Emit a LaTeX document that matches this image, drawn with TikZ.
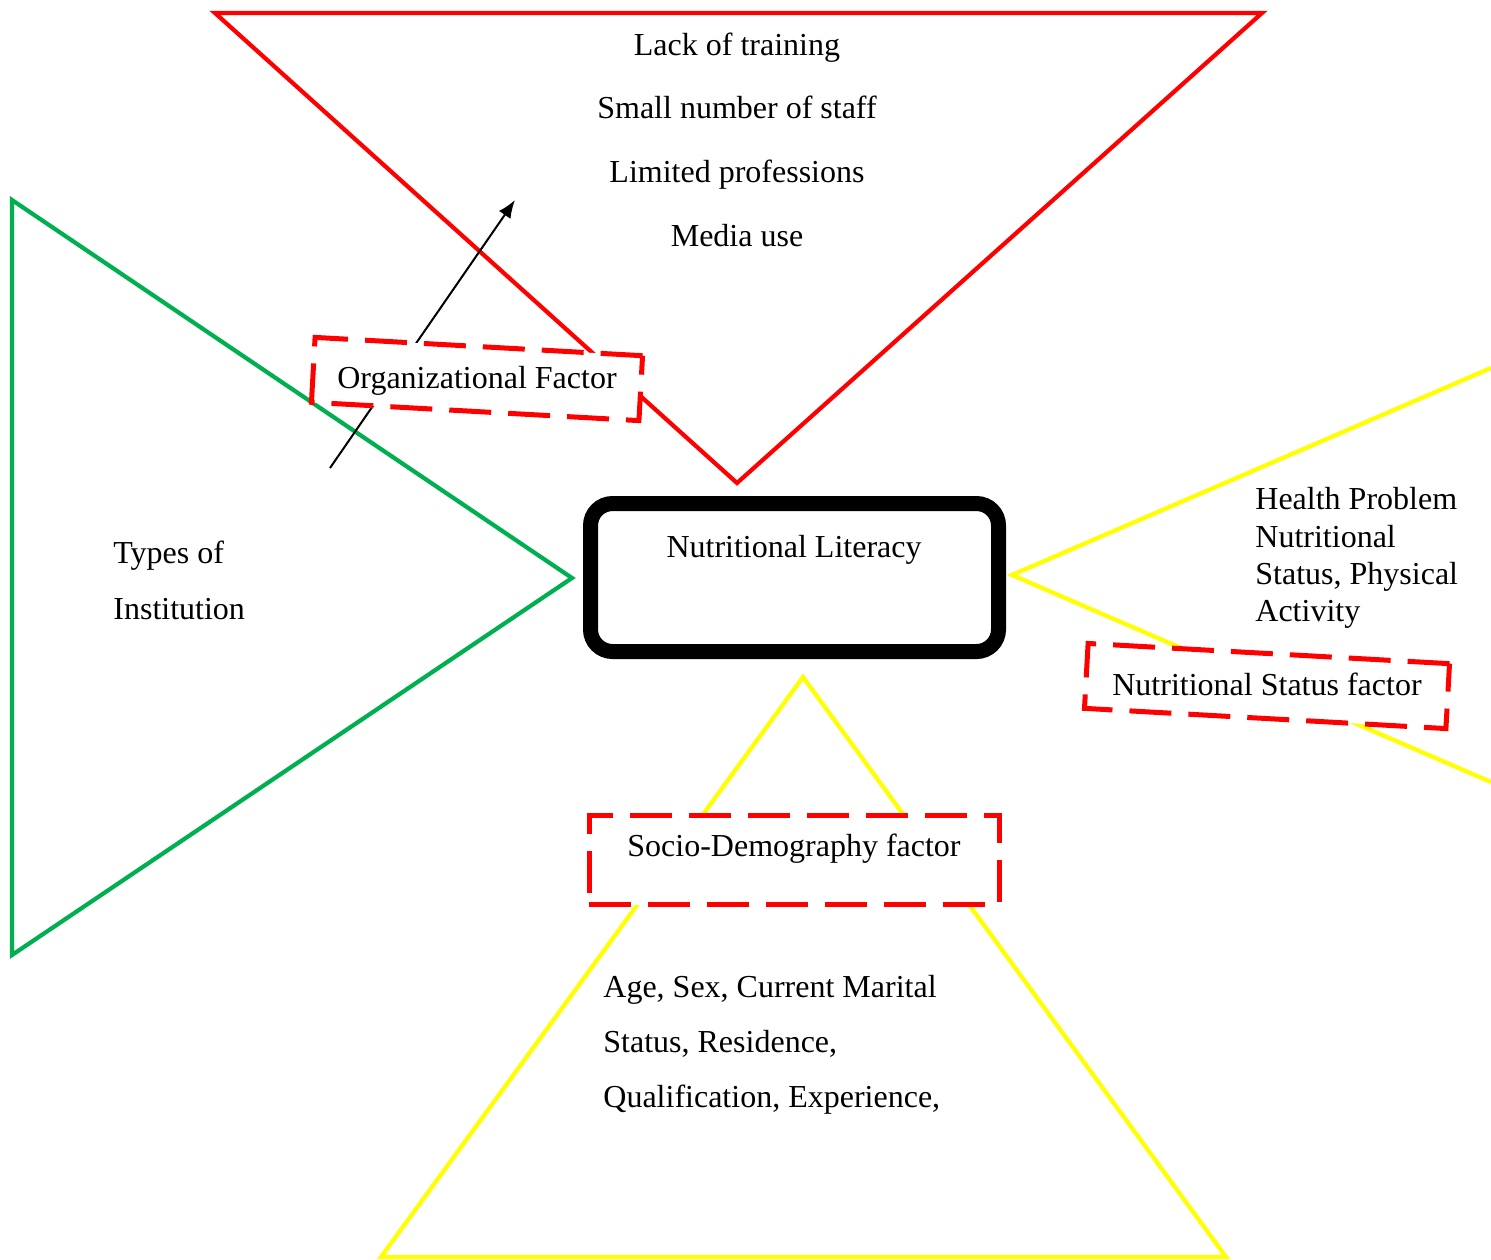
\documentclass[tikz,border=0pt]{standalone}
\usepackage{fontspec}
\setmainfont{Liberation Serif}
\usetikzlibrary{arrows.meta}
\definecolor{wgreen}{RGB}{0,176,80}
\definecolor{wyellow}{RGB}{255,255,0}
\begin{document}
\begin{tikzpicture}[x=0.5pt,y=-0.5pt,
  lbl/.style={font=\fontsize{16}{19}\selectfont, inner sep=0pt, anchor=base},
  lbll/.style={lbl, anchor=base west},
  tri/.style={line width=2.1pt, line join=miter},
  dbox/.style={draw=red, fill=white, line width=2.5pt, dash pattern=on 21pt off 8.5pt, inner sep=0pt},
  mainbox/.style={draw=black, line width=7.5pt, rounded corners=11pt, inner sep=0pt, minimum width=204pt, minimum height=74pt}
]
\useasboundingbox (0,0) rectangle (1491,1259);
% triangles
\draw[tri, red] (215,13) -- (1262,13) -- (737,483) -- cycle;
\draw[tri, wgreen] (12,200) -- (572,578) -- (12,955) -- cycle;
\draw[tri, wyellow] (1491,368) -- (1012,575) -- (1491,782);
\draw[tri, wyellow] (803,677) -- (1226,1257) -- (381,1257) -- cycle;
% arrow
\coordinate (a1) at (330,468);
\coordinate (a2) at (515,200);
\draw[line width=1pt, -{Latex[length=9pt,width=7pt]}] (a1) -- (a2);
% central box
\node[mainbox] (nl) at (794.5,577.5) {};
\node[lbl] (nlt) at (794,557) {Nutritional Literacy};
% dashed boxes
\node[dbox, minimum width=164pt, minimum height=32.5pt, rotate=-3.2] (orgbox) at (477,379) {};
\node[lbl] (orgt) at (477,388) {Organizational Factor};
\node[dbox, minimum width=181pt, minimum height=32.5pt, rotate=-3.2] (nsbox) at (1267,686) {};
\node[lbl] (nst) at (1267,695) {Nutritional Status factor};
\node[dbox, minimum width=205pt, minimum height=44.5pt] (sdbox) at (794,860) {};
\node[lbl] (sdt) at (794,856) {Socio-Demography factor};
% texts in red triangle
\node[lbl] (t1) at (737,55) {Lack of training};
\node[lbl] (t2) at (737,118) {Small number of staff};
\node[lbl] (t3) at (737,182) {Limited professions};
\node[lbl] (t4) at (737,246) {Media use};
% green
\node[lbll] (g1) at (113,563) {Types of};
\node[lbll] (g2) at (113,619) {Institution};
% right yellow
\node[lbll] (y1) at (1255,509) {Health Problem};
\node[lbll] (y2) at (1255,547) {Nutritional};
\node[lbll] (y3) at (1255,584) {Status, Physical};
\node[lbll] (y4) at (1255,621) {Activity};
% bottom yellow
\node[lbll] (b1) at (603,997) {Age, Sex, Current Marital};
\node[lbll] (b2) at (603,1052) {Status, Residence,};
\node[lbll] (b3) at (603,1107) {Qualification, Experience,};
\end{tikzpicture}
\end{document}
